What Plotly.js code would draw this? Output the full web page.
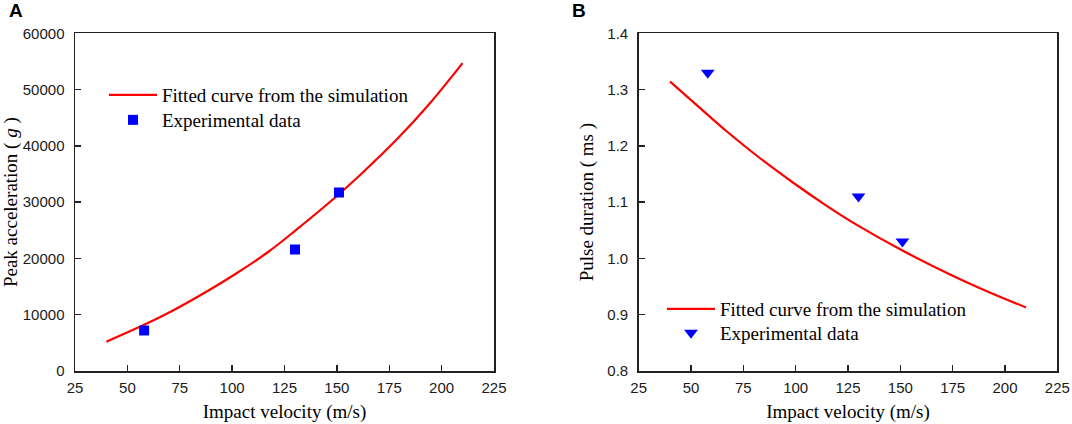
<!DOCTYPE html>
<html>
<head>
<meta charset="utf-8">
<script src="https://cdn.plot.ly/plotly-3.0.1.min.js"></script>
<style>html,body{margin:0;padding:0;background:#fff;}#chart{width:1072px;height:424px;}</style>
</head>
<body>
<div id="chart"></div>
<script>
// Panel A: peak acceleration
const fitVelocityA = [40, 58, 69, 85, 101, 117, 130, 150, 163, 179, 194, 210];
const fitAccel = [5200, 8200, 10200, 13500, 17100, 21100, 24900, 31100, 35500, 41300, 47400, 54700];
const expVelocity = [58, 130, 151];
const expAccel = [7200, 21600, 31700];

// Panel B: pulse duration
const fitVelocityB = [40, 58, 67, 83, 99, 115, 129, 151, 174, 193, 210];
const fitDuration = [1.314, 1.255, 1.226, 1.178, 1.134, 1.093, 1.060, 1.014, 0.971, 0.939, 0.913];
const expDuration = [1.33, 1.11, 1.03];

const xTicks = [25, 50, 75, 100, 125, 150, 175, 200, 225];
const yTicksA = [0, 10000, 20000, 30000, 40000, 50000, 60000];
const yTicksB = [0.8, 0.9, 1.0, 1.1, 1.2, 1.3, 1.4];

const fitName = 'Fitted curve from the simulation';
const expName = 'Experimental data';
const RED = '#ff0000', BLUE = '#0000ff';
const serif = 'Liberation Serif, Times New Roman, serif';
const sans = 'Liberation Sans, Arial, sans-serif';

const traces = [
  {x: fitVelocityA, y: fitAccel, type: 'scatter', mode: 'lines', name: fitName,
   line: {color: RED, width: 2.2, shape: 'spline', smoothing: 1}, xaxis: 'x', yaxis: 'y', legend: 'legend'},
  {x: expVelocity, y: expAccel, type: 'scatter', mode: 'markers', name: expName,
   marker: {symbol: 'square', size: 10, color: BLUE, line: {width: 0}}, xaxis: 'x', yaxis: 'y', legend: 'legend2'},
  {x: fitVelocityB, y: fitDuration, type: 'scatter', mode: 'lines', name: fitName,
   line: {color: RED, width: 2.2, shape: 'spline', smoothing: 1}, xaxis: 'x2', yaxis: 'y2', legend: 'legend3'},
  {x: expVelocity, y: expDuration, type: 'scatter', mode: 'markers', name: expName,
   marker: {symbol: 'triangle-down', size: 12, color: BLUE, line: {width: 0}}, xaxis: 'x2', yaxis: 'y2', legend: 'legend4'}
];

const W = 1072, H = 424;
const yDom = [(H - 371) / H, (H - 33.3) / H];

function xAxis(domain, anchor) {
  return {
    domain: domain, anchor: anchor, range: [25, 225], tickmode: 'array', tickvals: xTicks,
    ticks: 'inside', ticklen: 6, tickwidth: 1.4, tickcolor: '#222',
    showline: true, mirror: true, linecolor: '#222', linewidth: 1.5,
    showgrid: false, zeroline: false, ticklabelstandoff: 2,
    tickfont: {family: sans, size: 15, color: '#1a1a1a'},
    title: {text: 'Impact velocity (m/s)', font: {family: serif, size: 19, color: '#000'}, standoff: 10}
  };
}
function yAxis(range, ticks, fmt, anchor, title) {
  return {
    domain: yDom, anchor: anchor, range: range, tickmode: 'array', tickvals: ticks, tickformat: fmt,
    ticks: 'inside', ticklen: 6, tickwidth: 1.4, tickcolor: '#222',
    showline: true, mirror: true, linecolor: '#222', linewidth: 1.5,
    showgrid: false, zeroline: false, ticklabelstandoff: 6,
    tickfont: {family: sans, size: 15, color: '#1a1a1a'},
    title: {text: title, font: {family: serif, size: 19, color: '#000'}, standoff: 8}
  };
}
function legendAt(px, pyTop) {
  return {x: px / W, y: 1 - pyTop / H, xanchor: 'left', yanchor: 'top', bgcolor: 'rgba(0,0,0,0)',
          borderwidth: 0, itemwidth: 48, tracegroupgap: 0,
          font: {family: serif, size: 19, color: '#000'}};
}

const layout = {
  width: W, height: H, margin: {l: 0, r: 0, t: 0, b: 0},
  paper_bgcolor: '#fff', plot_bgcolor: '#fff',
  xaxis: xAxis([75 / W, 494 / W], 'y'),
  yaxis: yAxis([0, 60000], yTicksA, 'd', 'x', 'Peak acceleration ( <i>g</i> )'),
  xaxis2: xAxis([638.7 / W, 1057.3 / W], 'y2'),
  yaxis2: yAxis([0.8, 1.4], yTicksB, '.1f', 'x2', 'Pulse duration ( ms )'),
  showlegend: true,
  legend: legendAt(104, 76),
  legend2: legendAt(104, 101),
  legend3: legendAt(662, 290),
  legend4: legendAt(662, 314),
  annotations: [
    {text: '<b>A</b>', x: 7 / W, y: 1 - 10.5 / H, xref: 'paper', yref: 'paper', xanchor: 'left', yanchor: 'middle',
     showarrow: false, font: {family: sans, size: 19, color: '#000'}},
    {text: '<b>B</b>', x: 570 / W, y: 1 - 10.5 / H, xref: 'paper', yref: 'paper', xanchor: 'left', yanchor: 'middle',
     showarrow: false, font: {family: sans, size: 19, color: '#000'}}
  ]
};

Plotly.newPlot('chart', traces, layout, {displayModeBar: false, staticPlot: true});
</script>
</body>
</html>
